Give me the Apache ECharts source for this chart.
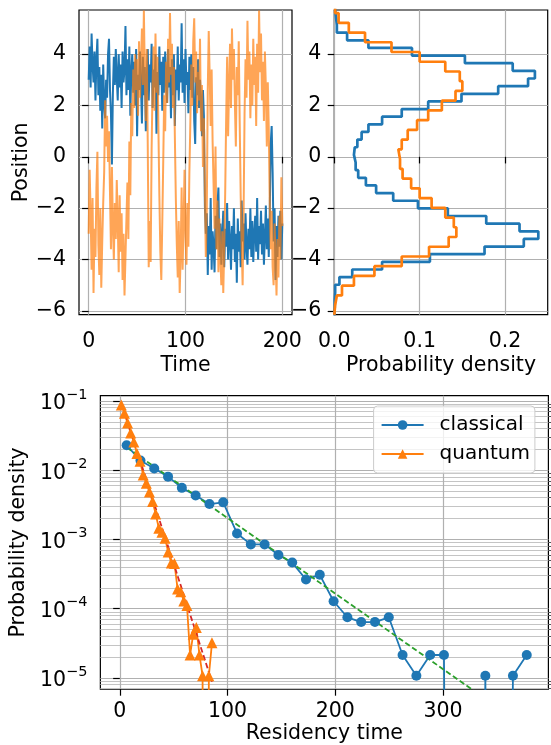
<!DOCTYPE html>
<html>
<head>
<meta charset="utf-8">
<script src="https://cdn.jsdelivr.net/npm/echarts@6/dist/echarts.min.js"></script>
<style>
html, body { margin: 0; padding: 0; background: #fff; }
#chart { width: 551px; height: 745px; }
</style>
</head>
<body>
<div id="chart"></div>
<script>
// position traces, one sample per time unit (t = 0..200)
var classicalTrace = [
  3.0, 4.3, 2.7, 4.8, 3.6, 2.9, 4.1, 2.2, 3.8, 4.6,
  2.4, 3.5, 1.8, 3.2, 1.1, 3.6, 2.1, 1.5, 3.0, 2.3,
  4.0, 4.6, 2.6, 1.7, -0.3, 2.5, 3.9, 2.8, 4.2, 3.1,
  2.2, 4.0, 2.7, 3.6, 1.9, 4.1, 2.9, 3.4, 5.1, 2.4,
  3.8, 2.6, 4.3, 1.6, 3.3, 4.0, 2.5, 3.7, 2.0, 4.2,
  0.8, 3.2, 2.6, 4.1, 2.8, 1.3, 3.9, 2.4, 3.5, 1.0,
  3.0, 4.2, 2.2, 3.6, 2.9, 4.4, 1.9, 3.4, 2.7, 4.0,
  0.9, 3.3, 2.4, 4.3, 2.8, 3.7, 1.8, 3.9, 2.5, 4.1,
  3.0, 2.1, 4.2, 2.7, 3.5, 1.5, 3.8, 2.4, 4.0, 1.2,
  3.4, 2.6, 4.3, 2.2, 3.6, 2.9, 5.2, 2.5, 3.8, 2.1,
  4.2, 2.8, 3.3, 1.7, 3.9, 2.6, 4.0, 2.3, 3.5, 1.4,
  0.5, 3.1, 2.4, 3.8, 1.9, 3.0, 2.2, 0.8, 2.6, 1.6,
  -1.9, -3.0, -2.2, -4.6, -2.7, -3.8, -1.6, -4.4, -2.9, -3.5,
  -4.5, -2.3, -3.6, -1.9, -1.2, -3.9, -2.6, -4.2, -3.0, -2.1,
  -4.3, -2.8, -3.5, -1.8, -4.0, -2.5, -3.2, -4.4, -2.7, -3.6,
  -2.0, -4.1, -3.0, -4.9, -2.4, -3.7, -2.9, -4.3, -1.7, -3.3,
  -2.6, -4.0, -2.2, -3.5, -4.2, -2.8, -3.6, -2.0, -3.9, -2.5,
  -4.1, -3.0, -2.3, -3.7, -1.6, -4.0, -2.7, -3.4, -2.1, -3.8,
  -2.6, -4.2, -3.1, -1.9, -3.6, -2.4, -3.9, -2.2, 0.5, 1.2,
  -0.6, -3.3, -2.0, -4.8, -2.7, -3.9, -2.3, -3.5, -2.1, -4.0,
  -2.6
];
var quantumTrace = [
  -3.0, -0.5, -2.2, -4.4, -1.6, -5.3, -2.8, -3.9, -1.2, 0.2,
  -3.4, -4.6, -2.0, -5.1, -3.3, -1.8, -0.6, 2.2, 0.4, 1.6,
  -0.2, 1.0, -1.4, -3.6, -0.4, -2.7, -4.0, -1.8, -3.2, -0.9,
  -2.5, -4.5, -1.5, -3.7, -2.2, -4.8, -3.0, -5.4, -3.9, -2.4,
  -1.0, -3.2, 0.6, -1.5, 2.1, 0.8, 3.4, 1.9, 4.0, 2.6,
  3.8, 1.6, 4.5, 2.3, 3.6, 5.0, 2.8, 5.7, 3.1, 1.4,
  4.2, 0.5, -4.3, -2.5, -4.1, 0.3, 2.8, 4.3, 1.8, 4.8,
  2.5, 3.9, 1.2, -1.5, -3.7, -4.8, -2.6, -0.2, 2.4, 1.0,
  3.7, 2.1, 4.6, 2.9, 5.6, 3.2, 4.4, 1.9, 3.5, 0.8,
  -1.6, -3.4, -4.7, -2.5, -5.3, -3.8, -1.2, -4.4, -2.6, -0.5,
  -3.1, -4.2, -1.8, -3.5, -0.6, 1.3, 3.6, 2.0, 4.5, 5.4,
  2.9, 4.1, 1.7, 3.3, 2.2, 4.6, 1.0, 2.8, -0.4, 1.5,
  -1.3, -3.9, -2.0, 2.6, 4.9, 3.1, 1.2, 3.4, 0.6, -1.1,
  -2.8, 0.4, -3.6, -1.7, -4.5, -2.4, -3.9, -5.0, -2.9, -5.3,
  -3.6, -1.4, 1.5, 3.9, 0.8, 2.7, 4.4, 1.9, 5.0, 3.0,
  4.2, 2.1, 0.4, 3.5, 2.4, 4.5, 1.3, -1.5, -3.4, -5.0,
  -2.2, 1.7, 3.8, 2.3, 5.3, 3.0, 4.1, 1.5, 3.6, 2.0,
  4.6, 2.8, 3.9, 1.2, 4.4, 2.5, 5.7, 3.3, 4.8, 2.2,
  3.7, 1.4, 4.1, 2.7, 0.4, 2.9, 1.1, -1.8, -3.6, -2.1,
  -4.3, -5.0, -2.6, -3.9, -5.4, -3.2, -4.7, -2.3, -4.0, -0.8,
  -2.7
];

// position histograms (bins listed from the top edge downwards)
var classicalBinTop = 5.73;
var classicalBinWidth = 0.2976;
var classicalHist = [
  0.001, 0.002, 0.003, 0.015, 0.040, 0.091, 0.153, 0.209, 0.235, 0.227,
  0.192, 0.149, 0.110, 0.079, 0.056, 0.040, 0.032, 0.027, 0.024, 0.023,
  0.025, 0.028, 0.037, 0.049, 0.069, 0.098, 0.133, 0.178, 0.217, 0.239,
  0.222, 0.176, 0.112, 0.056, 0.021, 0.006, 0.001, 0.001, 0.0005, 0.0005
];
var quantumBinTop = 5.98;
var quantumBinWidth = 0.3793;
var quantumHist = [
  0.001, 0.005, 0.017, 0.036, 0.067, 0.100, 0.130, 0.147, 0.150, 0.142,
  0.126, 0.110, 0.097, 0.086, 0.079, 0.075, 0.077, 0.080, 0.090, 0.100,
  0.114, 0.130, 0.140, 0.143, 0.134, 0.111, 0.079, 0.047, 0.023, 0.009,
  0.003, 0.001
];

// residency time distributions
var classicalTime = [
  6.4, 19.2, 32.0, 44.8, 57.6, 70.4, 83.2, 96.0, 108.8, 121.6,
  134.4, 147.2, 160.0, 172.8, 185.6, 198.4, 211.2, 224.0, 236.8, 249.6,
  262.4, 275.2, 288.0, 300.8, 313.6, 326.4, 339.2, 352.0, 364.8, 377.6
];
var classicalDensity = [
  0.0229, 0.0138, 0.0106, 0.00807, 0.00556, 0.00432, 0.00324, 0.00343, 0.00122, 0.000848,
  0.000848, 0.000597, 0.000463, 0.000264, 0.000308, 0.000128, 7.5e-5, 6.4e-5, 6.4e-5, 7.5e-5,
  2.14e-5, 1.07e-5, 2.14e-5, 2.14e-5, 0, 0, 1.07e-5, 0, 1.07e-5, 2.14e-5
];
var quantumTime = [
  1.45, 4.35, 7.25, 10.15, 13.05, 15.95, 18.85, 21.75, 24.65, 27.55,
  30.45, 33.35, 36.25, 39.15, 42.05, 44.95, 47.85, 50.75, 53.65, 56.55,
  59.45, 62.35, 65.25, 68.15, 71.05, 73.95, 76.85, 79.75, 82.65, 85.55
];
var quantumDensity = [
  0.0877, 0.0665, 0.0479, 0.0344, 0.0256, 0.0174, 0.0135, 0.00853, 0.00648, 0.00486,
  0.00354, 0.00233, 0.00145, 0.00127, 0.00104, 0.000659, 0.000458, 0.000449, 0.000192, 0.000176,
  0.000129, 0.000111, 2.14e-5, 4.28e-5, 5.35e-5, 2.14e-5, 1.07e-5, 0, 1.07e-5, 3.21e-5
];
// exponential fits (end points)
var classicalFitTime = [6.4, 377.6];
var classicalFit = [0.0214, 1.9e-6];
var quantumFitTime = [1.45, 85.55];
var quantumFit = [0.095, 8.8e-6];

// tick labels
var timeTicks = [0, 100, 200];
var positionTicks = [-6, -4, -2, 0, 2, 4];
var histTicks = [0, 0.1, 0.2];
var residencyTicks = [0, 100, 200, 300];
var logTicks = [1e-5, 1e-4, 1e-3, 1e-2, 1e-1];

var FONT = 'DejaVu Sans';
var FS = 20.5;
var BLUE = '#1f77b4', ORANGE = '#ff7f0e', GREEN = '#2ca02c', RED = '#d62728';

// log minor gridlines at 2..9 x 10^k
var logMinor = [];
for (var k = -6; k <= -1; k++) {
  for (var m = 2; m <= 9; m++) {
    var v = m * Math.pow(10, k);
    if (v > 6.88e-6 && v < 0.119) logMinor.push(v);
  }
}

function minus(v) {
  return String(v).replace('-', '\u2212');
}

function stepPath(top, width, dens) {
  var n = dens.length;
  var pts = [[0, top - n * width]];
  for (var i = n - 1; i >= 0; i--) {
    var hi = top - i * width;
    pts.push([dens[i], hi - width]);
    pts.push([dens[i], hi]);
  }
  pts.push([0, top]);
  return pts;
}

function traceData(arr) {
  return arr.map(function (v, i) { return [i, v]; });
}

// zero counts cannot be drawn on a log axis: send them far below the frame
function logData(xs, ys) {
  return xs.map(function (x, i) {
    if (ys[i] === 0) return { value: [x, 1e-30], symbol: 'none' };
    return [x, ys[i]];
  });
}

function axis(extra) {
  var base = {
    axisLine: { show: false },
    axisTick: { length: 6.6, lineStyle: { color: '#000', width: 1.2 } },
    axisLabel: { margin: 13, color: '#000', fontSize: FS, fontFamily: FONT },
    splitLine: { show: true, lineStyle: { color: '#b0b0b0', width: 1.2 } },
    nameLocation: 'middle',
    nameTextStyle: { color: '#000', fontSize: FS, fontFamily: FONT }
  };
  for (var key in extra) {
    if (typeof extra[key] === 'object' && base[key] && !Array.isArray(extra[key])) {
      base[key] = Object.assign({}, base[key], extra[key]);
    } else {
      base[key] = extra[key];
    }
  }
  return base;
}

var chart = echarts.init(document.getElementById('chart'), null, { renderer: 'canvas' });

var gridStyle = { show: true, borderColor: '#000', borderWidth: 1.2, backgroundColor: 'transparent' };

var option = {
  animation: false,
  backgroundColor: '#fff',
  grid: [
    Object.assign({ left: 79, top: 10, width: 213, height: 304.7 }, gridStyle),
    Object.assign({ left: 334.3, top: 10, width: 213.4, height: 304.7 }, gridStyle),
    Object.assign({ left: 93.4, top: 395.7, width: 455, height: 296 }, gridStyle)
  ],
  legend: {
    data: ['classical', 'quantum'],
    orient: 'vertical',
    left: 373.6,
    top: 406,
    itemWidth: 42,
    itemHeight: 12,
    itemGap: 9,
    padding: [9, 5, 9, 7],
    backgroundColor: 'rgba(255,255,255,0.8)',
    borderColor: '#cccccc',
    borderWidth: 1,
    borderRadius: 4,
    textStyle: { color: '#000', fontSize: 20, fontFamily: FONT, padding: [0, 0, 0, 11] }
  },
  xAxis: [
    axis({ gridIndex: 0, type: 'value', min: -10, max: 210, name: 'Time', nameGap: 40,
      axisTick: { customValues: timeTicks }, axisLabel: { customValues: timeTicks, margin: 16 } }),
    axis({ gridIndex: 1, type: 'value', min: 0, max: 0.25, name: 'Probability density', nameGap: 40,
      axisTick: { customValues: histTicks },
      axisLabel: { customValues: histTicks, margin: 16, formatter: function (v) { return v.toFixed(1); } } }),
    axis({ gridIndex: 2, type: 'value', min: -18, max: 397.7, name: 'Residency time', nameGap: 33,
      axisTick: { customValues: residencyTicks }, axisLabel: { customValues: residencyTicks, margin: 12 } })
  ],
  yAxis: [
    axis({ gridIndex: 0, type: 'value', min: -6.15, max: 5.72, name: 'Position', nameGap: 44,
      axisTick: { customValues: positionTicks },
      axisLabel: { customValues: positionTicks, formatter: minus } }),
    axis({ gridIndex: 1, type: 'value', min: -6.15, max: 5.72,
      axisTick: { customValues: positionTicks },
      axisLabel: { customValues: positionTicks, formatter: minus } }),
    axis({ gridIndex: 2, type: 'log', logBase: 10, min: 6.88e-6, max: 0.1192,
      name: 'Probability density', nameGap: 59,
      axisTick: { customValues: logTicks },
      axisLabel: {
        customValues: logTicks,
        formatter: function (v) {
          var e = Math.round(Math.log(v) / Math.LN10);
          return '{b|10}{s|\u2212' + (-e) + '}';
        },
        rich: {
          b: { fontSize: FS, fontFamily: FONT, color: '#000', lineHeight: 27, verticalAlign: 'bottom' },
          s: { fontSize: 14.5, fontFamily: FONT, color: '#000', lineHeight: 15, verticalAlign: 'top' }
        }
      } }),
    axis({ gridIndex: 2, type: 'log', logBase: 10, min: 6.88e-6, max: 0.1192,
      axisTick: { customValues: logMinor, length: 3.8, lineStyle: { width: 1 } },
      axisLabel: { show: false },
      splitLine: { show: true, lineStyle: { color: '#c4c4c4', width: 1 } } })
  ],
  series: [
    { type: 'line', xAxisIndex: 0, yAxisIndex: 0, data: traceData(classicalTrace),
      showSymbol: false, symbol: 'none', lineStyle: { color: BLUE, width: 2 } },
    { type: 'line', xAxisIndex: 0, yAxisIndex: 0, data: traceData(quantumTrace),
      showSymbol: false, symbol: 'none', lineStyle: { color: ORANGE, width: 2, opacity: 0.7 } },
    { type: 'line', xAxisIndex: 1, yAxisIndex: 1, data: stepPath(classicalBinTop, classicalBinWidth, classicalHist),
      symbol: 'none', lineStyle: { color: BLUE, width: 2.7 } },
    { type: 'line', xAxisIndex: 1, yAxisIndex: 1, data: stepPath(quantumBinTop, quantumBinWidth, quantumHist),
      symbol: 'none', lineStyle: { color: ORANGE, width: 2.7 } },
    { name: 'classical', type: 'line', xAxisIndex: 2, yAxisIndex: 2, data: logData(classicalTime, classicalDensity),
      symbol: 'circle', symbolSize: 10, color: BLUE,
      itemStyle: { color: BLUE }, lineStyle: { color: BLUE, width: 1.8 } },
    { name: 'quantum', type: 'line', xAxisIndex: 2, yAxisIndex: 2, data: logData(quantumTime, quantumDensity),
      symbol: 'triangle', symbolSize: 11, color: ORANGE,
      itemStyle: { color: ORANGE }, lineStyle: { color: ORANGE, width: 1.8 } },
    { type: 'line', xAxisIndex: 2, yAxisIndex: 2, data: logData(classicalFitTime, classicalFit),
      symbol: 'none', lineStyle: { color: GREEN, width: 1.8, type: [5.5, 2.8] } },
    { type: 'line', xAxisIndex: 2, yAxisIndex: 2, data: logData(quantumFitTime, quantumFit),
      symbol: 'none', lineStyle: { color: RED, width: 1.8, type: [5.5, 2.8] } }
  ]
};

chart.setOption(option);
</script>
</body>
</html>
